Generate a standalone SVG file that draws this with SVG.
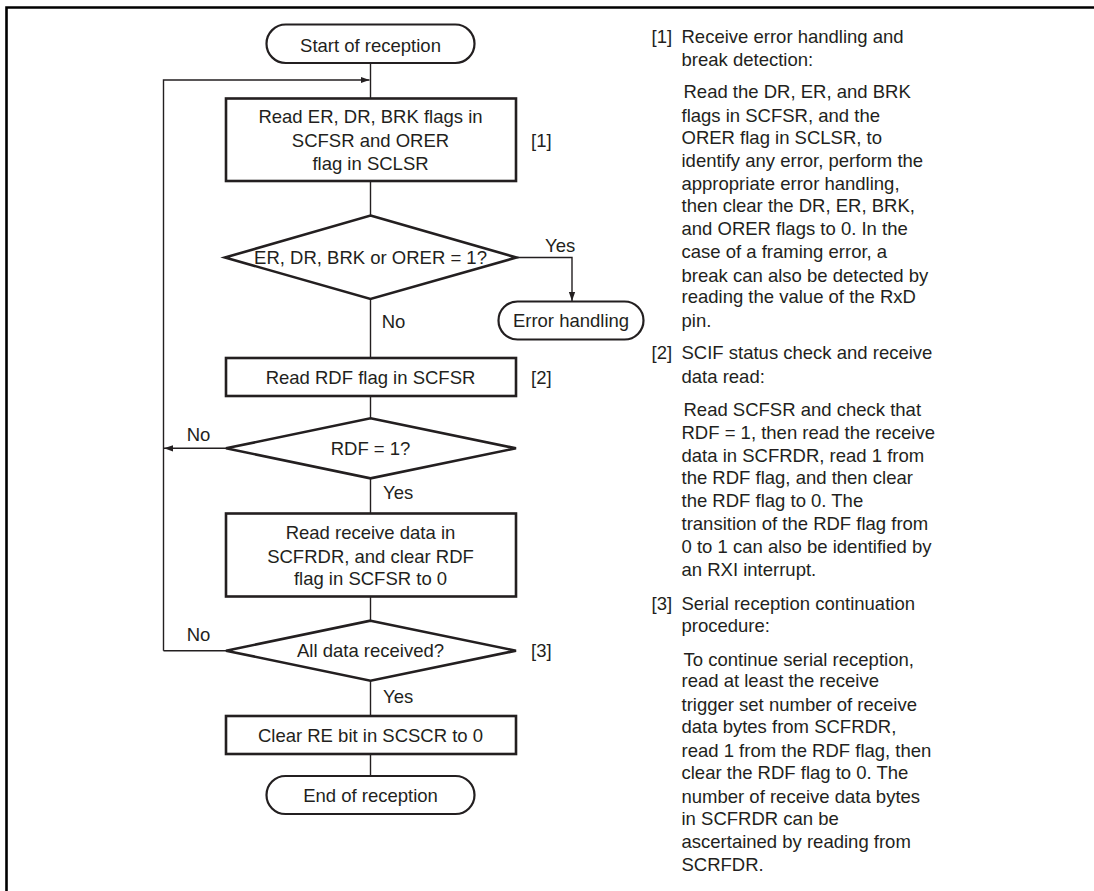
<svg xmlns="http://www.w3.org/2000/svg" width="1094" height="891" viewBox="0 0 1094 891">
<style>
text{font-family:"Liberation Sans",Arial,Helvetica,sans-serif;font-size:18.5px;fill:#231f20}
.c{text-anchor:middle}
.box{fill:#fff;stroke:#231f20;stroke-width:2.6}
.term{fill:#fff;stroke:#231f20;stroke-width:2.2}
.ln{fill:none;stroke:#231f20;stroke-width:1.4}
.frame{fill:none;stroke:#000;stroke-width:2.6}
</style>
<defs>
<marker id="ah" viewBox="0 0 10 10" refX="10" refY="5" markerWidth="9" markerHeight="9" markerUnits="userSpaceOnUse" orient="auto">
<path d="M0,1.5 L10,5 L0,8.5 Z" fill="#231f20"/>
</marker>
</defs>
<rect width="1094" height="891" fill="#fff"/>
<path class="frame" d="M6.5,891 V7.5 H1094"/>
<g id="connectors">
<path class="ln" d="M370.5,63 V98"/>
<path class="ln" d="M163.5,650.7 V80 H369.5" marker-end="url(#ah)"/>
<path class="ln" d="M370.5,181 V215"/>
<path class="ln" d="M516.5,257.5 H572 V301" marker-end="url(#ah)"/>
<path class="ln" d="M370.5,299 V358"/>
<path class="ln" d="M370.5,396 V418"/>
<path class="ln" d="M226,448.3 H164" marker-end="url(#ah)"/>
<path class="ln" d="M370.5,478 V513"/>
<path class="ln" d="M370.5,597 V621"/>
<path class="ln" d="M226,650.7 H163.5"/>
<path class="ln" d="M370.5,681 V716"/>
<path class="ln" d="M370.5,754 V776"/>
<text x="545" y="252">Yes</text>
<text x="381.7" y="328">No</text>
<text x="186.7" y="440.5">No</text>
<text x="383" y="499">Yes</text>
<text x="186.7" y="641">No</text>
<text x="383" y="702.5">Yes</text>
</g>
<g id="start">
<rect class="term" x="266.5" y="24.5" width="208" height="38.5" rx="19.25"/>
<text class="c" x="370.5" y="51.5">Start of reception</text>
</g>
<g id="read-flags">
<rect class="box" x="226" y="98.5" width="290" height="82.5"/>
<text class="c" x="370.5" y="123">Read ER, DR, BRK flags in</text>
<text class="c" x="370.5" y="146.5">SCFSR and ORER</text>
<text class="c" x="370.5" y="170">flag in SCLSR</text>
<text x="531" y="146.5">[1]</text>
</g>
<g id="error-check">
<polygon class="box" points="370.5,215.5 516.5,257.5 370.5,299 225,257.5"/>
<text class="c" x="370.5" y="264">ER, DR, BRK or ORER = 1?</text>
</g>
<g id="error-handling">
<rect class="term" x="498.5" y="301.5" width="145" height="38" rx="19"/>
<text class="c" x="571" y="326.5">Error handling</text>
</g>
<g id="read-rdf">
<rect class="box" x="226" y="358" width="290" height="38"/>
<text class="c" x="370.5" y="384">Read RDF flag in SCFSR</text>
<text x="531" y="384">[2]</text>
</g>
<g id="rdf-check">
<polygon class="box" points="370.5,418.3 516,448.3 370.5,478.3 226,448.3"/>
<text class="c" x="370.5" y="455">RDF = 1?</text>
</g>
<g id="read-data">
<rect class="box" x="226" y="513.5" width="290" height="83"/>
<text class="c" x="370.5" y="539.2">Read receive data in</text>
<text class="c" x="370.5" y="562.5">SCFRDR, and clear RDF</text>
<text class="c" x="370.5" y="585">flag in SCFSR to 0</text>
</g>
<g id="all-check">
<polygon class="box" points="370.5,620.7 516,650.7 370.5,680.7 226,650.7"/>
<text class="c" x="370.5" y="657.2">All data received?</text>
<text x="531" y="657.2">[3]</text>
</g>
<g id="clear-re">
<rect class="box" x="226" y="716" width="290" height="38"/>
<text class="c" x="370.5" y="741.5">Clear RE bit in SCSCR to 0</text>
</g>
<g id="end">
<rect class="term" x="266.5" y="776" width="208" height="38" rx="19"/>
<text class="c" x="370.5" y="801.5">End of reception</text>
</g>
<g id="notes">
<text x="651.5" y="42.5">[1]</text>
<text x="681.5" y="42.5">Receive error handling and</text>
<text x="681.5" y="65.8">break detection:</text>
<text x="683.5" y="98.2">Read the DR, ER, and BRK</text>
<text x="681.5" y="121.5">flags in SCFSR, and the</text>
<text x="681.5" y="144.2">ORER flag in SCLSR, to</text>
<text x="681.5" y="166.5">identify any error, perform the</text>
<text x="681.5" y="189.8">appropriate error handling,</text>
<text x="681.5" y="212.2">then clear the DR, ER, BRK,</text>
<text x="681.5" y="235.2">and ORER flags to 0. In the</text>
<text x="681.5" y="258.2">case of a framing error, a</text>
<text x="681.5" y="281.5">break can also be detected by</text>
<text x="681.5" y="303.2">reading the value of the RxD</text>
<text x="681.5" y="326.5">pin.</text>
<text x="651.5" y="359.2">[2]</text>
<text x="681.5" y="359.2">SCIF status check and receive</text>
<text x="681.5" y="382.5">data read:</text>
<text x="683.5" y="415.8">Read SCFSR and check that</text>
<text x="681.5" y="438.8">RDF = 1, then read the receive</text>
<text x="681.5" y="461.5">data in SCFRDR, read 1 from</text>
<text x="681.5" y="484.2">the RDF flag, and then clear</text>
<text x="681.5" y="507.2">the RDF flag to 0. The</text>
<text x="681.5" y="529.8">transition of the RDF flag from</text>
<text x="681.5" y="552.5">0 to 1 can also be identified by</text>
<text x="681.5" y="575.5">an RXI interrupt.</text>
<text x="651.5" y="609.8">[3]</text>
<text x="681.5" y="609.8">Serial reception continuation</text>
<text x="681.5" y="631.5">procedure:</text>
<text x="683.5" y="665.5">To continue serial reception,</text>
<text x="681.5" y="687.2">read at least the receive</text>
<text x="681.5" y="710.5">trigger set number of receive</text>
<text x="681.5" y="733.2">data bytes from SCFRDR,</text>
<text x="681.5" y="756.5">read 1 from the RDF flag, then</text>
<text x="681.5" y="779.2">clear the RDF flag to 0. The</text>
<text x="681.5" y="802.5">number of receive data bytes</text>
<text x="681.5" y="824.8">in SCFRDR can be</text>
<text x="681.5" y="847.5">ascertained by reading from</text>
<text x="681.5" y="870.5">SCRFDR.</text>
</g>
</svg>
